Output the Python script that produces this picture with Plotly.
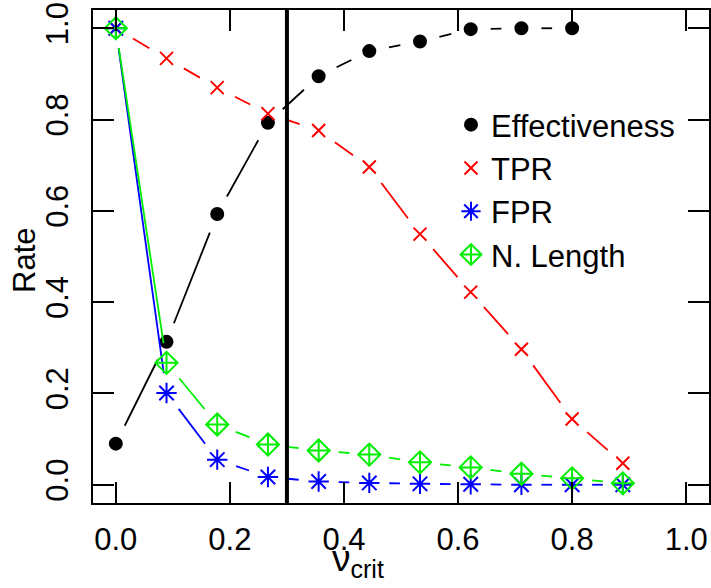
import plotly.graph_objects as go

# ---- data ----
v_crit = [0.0, 0.0889, 0.1778, 0.2667, 0.3556, 0.4444, 0.5333, 0.6222, 0.7111, 0.8, 0.8889]
effectiveness = [0.09, 0.313, 0.593, 0.793, 0.895, 0.950, 0.971, 0.998, 1.0, 1.0, None]
tpr = [1.0, 0.934, 0.870, 0.813, 0.776, 0.696, 0.549, 0.422, 0.297, 0.144, 0.047]
fpr = [1.0, 0.201, 0.055, 0.017, 0.007, 0.004, 0.002, 0.001, 0.0, 0.0, 0.0]
n_length = [1.0, 0.267, 0.132, 0.088, 0.075, 0.066, 0.049, 0.038, 0.024, 0.014, 0.003]
series_names = ["Effectiveness", "TPR", "FPR", "N. Length"]
tick_vals = [0.0, 0.2, 0.4, 0.6, 0.8, 1.0]
threshold = 0.3

# ---- layout geometry (body margin removed via post_script) ----
OFF = 0
W, H = 711, 588
ML, MT = 93, 10
PW, PH = 616, 493
MR, MB = W - ML - PW, H - MT - PH
XR = [-0.04, 1.04]
YR = [-0.04, 1.04]
sx = PW / (XR[1] - XR[0])
sy = PH / (YR[1] - YR[0])
GAP = 20  # px gap around points (R type="b")


def gapped(xs, ys):
    gx, gy = [], []
    for i in range(len(xs) - 1):
        if ys[i] is None or ys[i + 1] is None:
            continue
        ddx, ddy = xs[i + 1] - xs[i], ys[i + 1] - ys[i]
        d = ((ddx * sx) ** 2 + (ddy * sy) ** 2) ** 0.5
        if d <= 2 * GAP:
            continue
        f = GAP / d
        gx += [xs[i] + ddx * f, xs[i + 1] - ddx * f, None]
        gy += [ys[i] + ddy * f, ys[i + 1] - ddy * f, None]
    return gx, gy


def px_to_paper_x(px):
    return (px - OFF - ML) / PW


def px_to_paper_y(py):
    return (MT + PH - (py - OFF)) / PH


FONT = "Liberation Sans, Arial, sans-serif"
colors = ["#000000", "#FF0000", "#0000FF", "#00EE00"]
symbols = ["circle", "x-thin-open", "asterisk-open", "diamond-cross-open"]
sizes = [12, 13, 17, 17]
all_y = [effectiveness, tpr, fpr, n_length]

fig = go.Figure()
for name, ys, c, sym, sz in zip(series_names, all_y, colors, symbols, sizes):
    gx, gy = gapped(v_crit, ys)
    fig.add_trace(go.Scatter(x=gx, y=gy, mode="lines", line=dict(color=c, width=1.8),
                             showlegend=False, hoverinfo="skip"))
    fig.add_trace(go.Scatter(x=v_crit, y=ys, mode="markers", name=name,
                             marker=dict(symbol=sym, size=sz, color=c,
                                         line=dict(color=c, width=2))))

fig.add_shape(type="line", x0=threshold, x1=threshold, xref="x", y0=0, y1=1, yref="paper",
              line=dict(color="black", width=4))

axis_common = dict(
    showgrid=False, zeroline=False, showline=True, linecolor="black", linewidth=2,
    mirror="allticks", ticks="inside", ticklen=21, tickwidth=2, tickcolor="black",
    tickvals=tick_vals, tickformat=".1f", tickfont=dict(family=FONT, size=31, color="black"),
    automargin=False, ticklabeloverflow="allow",
)
fig.update_xaxes(range=XR, ticklabelstandoff=8, **axis_common)
fig.update_yaxes(range=YR, tickangle=-90, ticklabelstandoff=11, **axis_common)

fig.add_annotation(text="<span style='font-size:37px'>ν</span><sub><span style='font-size:25px'>crit</span></sub>",
                   xref="paper", yref="paper",
                   x=px_to_paper_x(358), y=px_to_paper_y(536), showarrow=False,
                   xanchor="center", yanchor="top", font=dict(family=FONT, size=31, color="black"))
fig.add_annotation(text="Rate", xref="paper", yref="paper", x=px_to_paper_x(24),
                   y=px_to_paper_y(261), showarrow=False, textangle=-90,
                   xanchor="center", yanchor="middle", font=dict(family=FONT, size=31, color="black"))

fig.update_layout(
    width=W, height=H, margin=dict(l=ML, r=MR, t=MT, b=MB, autoexpand=False),
    plot_bgcolor="white", paper_bgcolor="white",
    font=dict(family=FONT, color="black"),
    legend=dict(x=px_to_paper_x(451), y=px_to_paper_y(98), xanchor="left", yanchor="top",
                bgcolor="rgba(0,0,0,0)", font=dict(family=FONT, size=31, color="black"),
                tracegroupgap=0),
)

fig.write_html("out.html", config={"displayModeBar": False},
               post_script="document.body.style.margin='0';")
